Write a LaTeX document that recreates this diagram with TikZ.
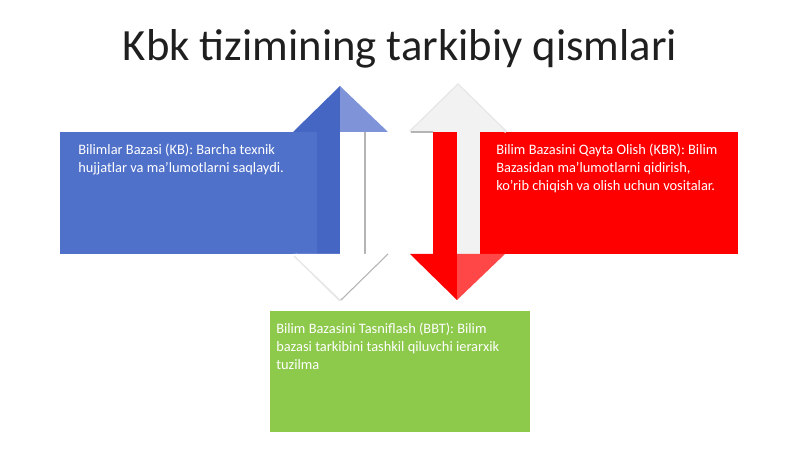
\documentclass[tikz,border=0pt]{standalone}
\usepackage{fontspec}
\setmainfont{Carlito}
\definecolor{kbblue}{HTML}{5071CA}
\definecolor{kbbluedark}{HTML}{4566C3}
\definecolor{kbbluelight}{HTML}{7E93D8}
\definecolor{kbred}{HTML}{FF0000}
\definecolor{kbredlight}{HTML}{FF4747}
\definecolor{kbgreen}{HTML}{8DC94B}
\definecolor{kbshade}{HTML}{F2F2F2}
\definecolor{kbedge}{HTML}{B4B4B4}
\definecolor{kbsoft}{HTML}{E6E6E6}
\begin{document}
\begin{tikzpicture}[x=0.75pt,y=-0.75pt,
  bodytext/.style={anchor=north west, align=left, text=white, inner sep=0pt,
    font=\fontsize{10.8}{13.5}\selectfont},
  titletext/.style={anchor=base, inner sep=0pt, text=black!88,
    font=\fontsize{33.5}{38}\selectfont}]
\useasboundingbox (0,0) rectangle (800,449);
\fill[white] (0,0) rectangle (800,449);
% title
\node[titletext] (title) at (400,61) {Kbk tizimining tarkibiy qismlari};
% ---------- blue box and up arrow ----------
\fill[kbblue] (60,132) rectangle (317,254);
\fill[kbbluedark] (340,86) -- (293,132) -- (317,132) -- (317,254) -- (340,254) -- cycle;
\fill[kbbluelight] (340,86) -- (388,132) -- (340,132) -- cycle;
\fill[white] (340,132) rectangle (365,254);
\draw[kbedge, line width=0.8] (365,132) -- (365,254);
% white bottom head
\draw[kbsoft, line width=3] (295,255) -- (341,300);
\fill[white] (293,254) -- (340,299) -- (388,254) -- cycle;
\draw[kbedge, line width=0.8] (388,254) -- (341,300);
% ---------- red box and down arrow ----------
\fill[kbred] (480,132) rectangle (738,254);
% top shaded head
\draw[kbsoft, line width=2] (410,132) -- (458,85) -- (506,132);
\fill[kbshade] (410,132) -- (458,85) -- (506,132) -- cycle;
\draw[kbedge, line width=0.8] (411,132) -- (433,132);
\fill[kbshade] (457,132) rectangle (480,254);
\fill[kbred] (433,132) rectangle (457,254);
\fill[kbred] (410,254) -- (457,254) -- (457,300) -- cycle;
\fill[kbredlight] (457,254) -- (505,254) -- (457,300) -- cycle;
% ---------- green box ----------
\fill[kbgreen] (270,311) rectangle (530,432);
% texts
\node[bodytext] (kb) at (78,144) {Bilimlar Bazasi (KB): Barcha texnik\\hujjatlar va ma'lumotlarni saqlaydi.};
\node[bodytext] (kbr) at (496,144) {Bilim Bazasini Qayta Olish (KBR): Bilim\\Bazasidan ma'lumotlarni qidirish,\\ko'rib chiqish va olish uchun vositalar.};
\node[bodytext] (bbt) at (276,323) {Bilim Bazasini Tasniflash (BBT): Bilim\\bazasi tarkibini tashkil qiluvchi ierarxik\\tuzilma};
\end{tikzpicture}
\end{document}
